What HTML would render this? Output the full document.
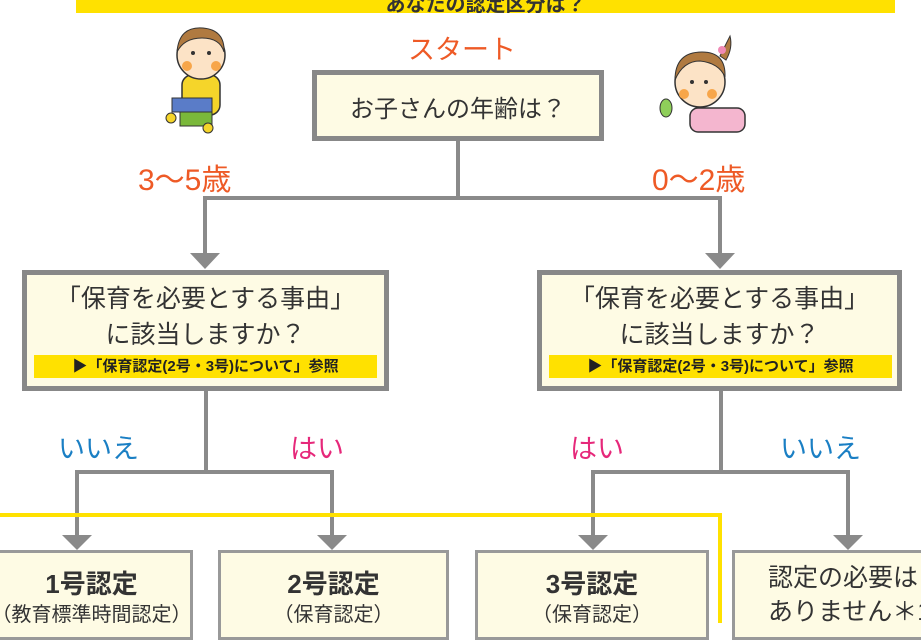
<!DOCTYPE html>
<html><head><meta charset="utf-8"><style>
body{margin:0;width:921px;height:623px;overflow:hidden;background:#fff;position:relative;font-family:"Liberation Sans","Noto Sans CJK JP",sans-serif;}
.a{position:absolute;white-space:nowrap;}
.box{position:absolute;background:#fefbe4;box-sizing:border-box;}
.c{text-align:center;color:#333;}
</style></head><body>
<div class="a" style="left:76px;top:0;width:819px;height:13px;background:#ffe100;overflow:hidden">
 <div style="position:absolute;left:0;width:819px;top:-12px;text-align:center;font-size:20px;font-weight:bold;color:#333">あなたの認定区分は？</div>
</div>

<svg class="a" style="left:0;top:0" width="921" height="623">
 <g stroke="#8a8a8a" stroke-width="4" fill="none">
  <path d="M458 140V198M205 198H720M205 196V255M720 196V255"/>
  <path d="M206 391V472M77 472H332M77 470V537M332 470V537"/>
  <path d="M721 391V472M593 472H848M593 470V537M848 470V537"/>
 </g>
 <path d="M0 515H720V623" stroke="#ffe100" stroke-width="4" fill="none"/>
 <g fill="#8a8a8a">
  <path d="M190 253h30l-15 16z"/><path d="M705 253h30l-15 16z"/>
  <path d="M62 535h30l-15 15z"/><path d="M317 535h30l-15 15z"/>
  <path d="M578 535h30l-15 15z"/><path d="M833 535h30l-15 15z"/>
 </g>
 <g>
  <rect x="182" y="75" width="38" height="40" rx="10" fill="#f5d52a" stroke="#333" stroke-width="1.5"/>
  <rect x="172" y="98" width="40" height="14" fill="#5a7cc8" stroke="#333"/>
  <rect x="180" y="112" width="32" height="14" fill="#7ab83a" stroke="#333"/>
  <circle cx="201" cy="55" r="24" fill="#fce3c6" stroke="#333" stroke-width="1.5"/>
  <path d="M177 52q2-26 26-24q22 2 21 24q-4-14-22-14q-18 0-25 14z" fill="#b07a40" stroke="#333"/>
  <circle cx="187" cy="66" r="5" fill="#f7a64a"/><circle cx="216" cy="66" r="5" fill="#f7a64a"/>
  <circle cx="193" cy="53" r="2" fill="#333"/><circle cx="209" cy="53" r="2" fill="#333"/>
  <circle cx="171" cy="118" r="5" fill="#f5d52a" stroke="#333"/><circle cx="208" cy="128" r="5" fill="#f5d52a" stroke="#333"/>
 </g>
 <g>
  <rect x="690" y="108" width="55" height="24" rx="8" fill="#f4b6cf" stroke="#333" stroke-width="1.5"/>
  <circle cx="700" cy="82" r="25" fill="#fce3c6" stroke="#333" stroke-width="1.5"/>
  <path d="M675 80q0-28 27-28q24 0 23 25q-6-14-25-16q-17 0-25 19z" fill="#b07a40" stroke="#333"/>
  <path d="M720 56q6-12 10-20q3 12-4 24z" fill="#b07a40" stroke="#333"/>
  <circle cx="722" cy="50" r="4" fill="#f08ab5"/>
  <circle cx="684" cy="94" r="5" fill="#f7a64a"/><circle cx="712" cy="94" r="5" fill="#f7a64a"/>
  <circle cx="692" cy="82" r="2" fill="#333"/><circle cx="706" cy="82" r="2" fill="#333"/>
  <ellipse cx="666" cy="108" rx="6" ry="9" fill="#8fcf5a" stroke="#333"/>
 </g>
</svg>

<div class="a" style="left:408px;top:28px;font-size:27px;color:#ee5a26">スタート</div>
<div class="box" style="left:312px;top:70px;width:292px;height:71px;border:5px solid #888"></div>
<div class="a c" style="left:312px;top:89px;width:292px;font-size:24px">お子さんの年齢は？</div>
<div class="a" style="left:138px;top:155px;font-size:30px;color:#ee5a26">3～5歳</div>
<div class="a" style="left:652px;top:155px;font-size:30px;color:#ee5a26">0～2歳</div>

<div class="box" style="left:22px;top:270px;width:367px;height:121px;border:5px solid #888"></div>
<div class="a c" style="left:22px;top:281px;width:367px;font-size:25px;line-height:36px">「保育を必要とする事由」<br>に該当しますか？</div>
<div class="a" style="left:34px;top:355px;width:343px;height:23px;background:#ffe100;font-size:15px;font-weight:bold;line-height:23px;color:#222;text-align:center">▶「保育認定(2号・3号)について」参照</div>

<div class="box" style="left:537px;top:270px;width:365px;height:121px;border:5px solid #888"></div>
<div class="a c" style="left:537px;top:281px;width:365px;font-size:25px;line-height:36px">「保育を必要とする事由」<br>に該当しますか？</div>
<div class="a" style="left:549px;top:355px;width:343px;height:23px;background:#ffe100;font-size:15px;font-weight:bold;line-height:23px;color:#222;text-align:center">▶「保育認定(2号・3号)について」参照</div>

<div class="a" style="left:58px;top:427px;font-size:27px;color:#1a7fc4">いいえ</div>
<div class="a" style="left:290px;top:427px;font-size:27px;color:#e6287a">はい</div>
<div class="a" style="left:570px;top:427px;font-size:27px;color:#e6287a">はい</div>
<div class="a" style="left:780px;top:427px;font-size:27px;color:#1a7fc4">いいえ</div>

<div class="box" style="left:-10px;top:550px;width:203px;height:90px;border:3px solid #999"></div>
<div class="box" style="left:218px;top:550px;width:231px;height:90px;border:3px solid #999"></div>
<div class="box" style="left:475px;top:550px;width:234px;height:90px;border:3px solid #999"></div>
<div class="box" style="left:732px;top:550px;width:200px;height:90px;border:3px solid #999"></div>

<div class="a c" style="left:-10px;top:564px;width:203px;font-size:26px;font-weight:bold">1号認定</div>
<div class="a c" style="left:-20px;top:598px;width:223px;font-size:20px">（教育標準時間認定）</div>
<div class="a c" style="left:218px;top:564px;width:231px;font-size:26px;font-weight:bold">2号認定</div>
<div class="a c" style="left:218px;top:598px;width:231px;font-size:20px">（保育認定）</div>
<div class="a c" style="left:475px;top:564px;width:234px;font-size:26px;font-weight:bold">3号認定</div>
<div class="a c" style="left:475px;top:598px;width:234px;font-size:20px">（保育認定）</div>
<div class="a" style="left:768px;top:561px;font-size:25px;line-height:34px;color:#333">認定の必要は<br>ありません＊1</div>
</body></html>
